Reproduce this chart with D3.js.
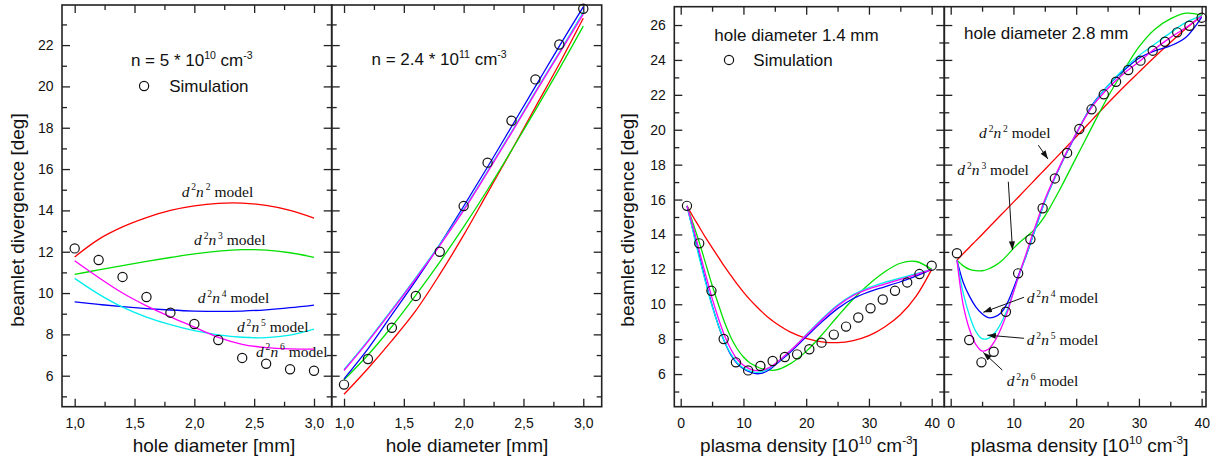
<!DOCTYPE html>
<html>
<head>
<meta charset="utf-8">
<script src="https://cdn.jsdelivr.net/npm/d3@7"></script>
<style>
  body { margin: 0; background: #fff; }
  svg { display: block; }
</style>
</head>
<body>
<div id="chart"></div>
<script>
// ---- left figure: divergence vs hole diameter ----
var holeDiameter = [1.0, 1.2, 1.4, 1.6, 1.8, 2.0, 2.2, 2.4, 2.6, 2.8, 3.0]

// n = 5e10 cm^-3
var simLow  = [12.16, 11.6, 10.78, 9.81, 9.05, 8.5, 7.73, 6.86, 6.58, 6.31, 6.24]
var d2n2Low = [11.75, 12.6, 13.2, 13.65, 14.0, 14.22, 14.34, 14.35, 14.24, 14.0, 13.63]
var d2n3Low = [10.9, 11.12, 11.33, 11.53, 11.72, 11.9, 12.03, 12.1, 12.08, 11.95, 11.73]
var d2n4Low = [9.57, 9.45, 9.34, 9.25, 9.18, 9.13, 9.11, 9.13, 9.19, 9.29, 9.42]
var d2n5Low = [10.71, 9.95, 9.32, 8.84, 8.47, 8.18, 7.98, 7.86, 7.84, 7.96, 8.25]
var d2n6Low = [11.56, 10.75, 10.0, 9.38, 8.85, 8.35, 7.85, 7.52, 7.36, 7.3, 7.29]

// n = 2.4e11 cm^-3
var simHigh  = [5.57, 6.81, 8.32, 9.86, 12.0, 14.21, 16.31, 18.34, 20.34, 22.03, 23.76]
var d2n2High = [5.1, 6.35, 7.7, 9.15, 10.9, 12.8, 14.85, 16.9, 19.0, 21.1, 23.3]
var d2n3High = [5.8, 7.0, 8.38, 9.9, 11.5, 13.2, 15.0, 16.9, 18.85, 20.85, 22.92]
var d2n4High = [5.85, 7.3, 8.95, 10.6, 12.35, 14.2, 16.1, 18.05, 20.0, 21.95, 23.85]
var d2n5High = [6.3, 7.7, 9.2, 10.75, 12.35, 14.05, 15.9, 17.8, 19.75, 21.65, 23.6]
var d2n6High = [6.25, 7.65, 9.15, 10.7, 12.3, 14.0, 15.85, 17.75, 19.7, 21.6, 23.5]

// ---- right figure: divergence vs plasma density ----
var densitySim = [1, 2.95, 4.9, 6.85, 8.8, 10.75, 12.7, 14.65, 16.6, 18.55, 20.5,
                  22.45, 24.4, 26.35, 28.3, 30.25, 32.2, 34.15, 36.1, 38.05, 40]
var densityModel = [1, 2, 3, 4, 5, 6, 7, 8, 9, 10, 11, 12, 13, 14, 15,
                    17.5, 20, 22.5, 25, 27.5, 30, 32.5, 35, 37.5, 40]

// hole diameter 1.4 mm
var sim14  = [15.64, 13.49, 10.77, 8.01, 6.67, 6.21, 6.46, 6.75, 6.98, 7.13, 7.42,
              7.8, 8.26, 8.72, 9.24, 9.77, 10.27, 10.77, 11.25, 11.73, 12.21]
var d2n2_14 = [15.64, 15.0, 14.4, 13.8, 13.25, 12.7, 12.15, 11.65, 11.15, 10.7, 10.28, 9.9, 9.55, 9.23, 8.95,
               8.4, 8.05, 7.85, 7.8, 7.92, 8.2, 8.7, 9.4, 10.45, 12.0]
var d2n3_14 = [15.64, 14.6, 13.5, 12.3, 11.1, 10.0, 8.95, 8.1, 7.45, 6.98, 6.65, 6.45, 6.3, 6.24, 6.22,
               6.6, 7.3, 8.25, 9.3, 10.3, 11.15, 11.85, 12.35, 12.45, 12.0]
var d2n4_14 = [15.64, 14.2, 12.72, 11.3, 9.95, 8.8, 7.84, 7.1, 6.6, 6.3, 6.12, 6.02, 6.06, 6.22, 6.5,
               7.26, 8.13, 8.99, 9.75, 10.33, 10.71, 11.0, 11.29, 11.61, 12.0]
var d2n5_14 = [15.64, 14.1, 12.6, 11.2, 9.9, 8.8, 7.85, 7.15, 6.65, 6.35, 6.18, 6.1, 6.14, 6.3, 6.55,
               7.35, 8.25, 9.15, 9.95, 10.55, 10.95, 11.25, 11.5, 11.75, 12.0]
var d2n6_14 = [15.64, 14.4, 13.0, 11.65, 10.35, 9.2, 8.2, 7.42, 6.85, 6.5, 6.3, 6.2, 6.22, 6.35, 6.58,
               7.35, 8.22, 9.1, 9.9, 10.5, 10.88, 11.15, 11.42, 11.7, 12.0]

// hole diameter 2.8 mm
var sim28  = [12.92, 7.95, 6.67, 7.28, 9.57, 11.77, 13.72, 15.5, 17.21, 18.67, 20.04,
              21.17, 22.03, 22.75, 23.42, 23.96, 24.53, 25.04, 25.58, 25.96, 26.42]
var d2n2_28 = [12.53, 12.9, 13.27, 13.63, 14.0, 14.37, 14.74, 15.11, 15.48, 15.85, 16.22, 16.6, 16.97, 17.35, 17.72,
               18.66, 19.6, 20.55, 21.5, 22.42, 23.3, 24.17, 25.0, 25.8, 26.55]
var d2n3_28 = [12.53, 12.2, 12.0, 11.93, 11.92, 12.02, 12.2, 12.45, 12.8, 13.2, 13.55, 13.85, 14.15, 14.55, 15.05,
               16.65, 18.4, 20.15, 21.85, 23.35, 24.75, 25.75, 26.35, 26.68, 26.57]
var d2n4_28 = [12.53, 11.25, 10.45, 9.85, 9.45, 9.23, 9.28, 9.5, 10.05, 10.9, 11.85, 12.75, 13.8, 14.85, 15.9,
               17.95, 19.75, 21.4, 22.5, 23.37, 24.1, 24.52, 24.8, 25.3, 26.45]
var d2n5_28 = [12.53, 10.62, 9.35, 8.45, 8.03, 8.05, 8.35, 8.9, 9.68, 10.7, 11.75, 12.77, 13.8, 14.85, 15.88,
               17.95, 19.8, 21.35, 22.5, 23.45, 24.25, 24.9, 25.55, 26.15, 26.52]
var d2n6_28 = [12.53, 9.95, 8.55, 7.7, 7.32, 7.42, 7.88, 8.6, 9.52, 10.68, 11.8, 12.87, 13.95, 15.0, 16.0,
               18.0, 19.8, 21.3, 22.35, 23.2, 23.9, 24.62, 25.28, 25.85, 26.5]

// ---- ticks ----
var diameterTicks = [1.0, 1.5, 2.0, 2.5, 3.0]
var diameterMinor = [1.25, 1.75, 2.25, 2.75]
var densityTicks = [0, 10, 20, 30, 40]
var densityMinor = [5, 15, 25, 35]
var degTicksLeft = [6, 8, 10, 12, 14, 16, 18, 20, 22]
var degMinorLeft = [5, 7, 9, 11, 13, 15, 17, 19, 21, 23]
var degTicksRight = [6, 8, 10, 12, 14, 16, 18, 20, 22, 24, 26]
var degMinorRight = [5, 7, 9, 11, 13, 15, 17, 19, 21, 23, 25]

var modelExp = [2, 3, 4, 5, 6]
var modelColor = ["#ff0000", "#00e000", "#0000ff", "#00eeee", "#ff00ff"]

var width = 1219
var height = 464
var fontSans = "'Liberation Sans', Arial, Helvetica, sans-serif"
var fontSerif = "'Liberation Serif', 'Times New Roman', serif"

var svg = d3.select("#chart").append("svg")
    .attr("width", width)
    .attr("height", height)

svg.append("defs").append("marker")
    .attr("id", "arrow")
    .attr("viewBox", "0 0 10 7")
    .attr("refX", 10).attr("refY", 3.5)
    .attr("markerUnits", "userSpaceOnUse")
    .attr("markerWidth", 9).attr("markerHeight", 6)
    .attr("orient", "auto")
  .append("path")
    .attr("d", "M0,0 L10,3.5 L0,7 z")
    .attr("fill", "#111")

var commaFmt = d => d3.format(".1f")(d).replace(".", ",")

var yLeft = d3.scaleLinear().domain([4.5, 23.94]).range([406.7, 5])
var yRight = d3.scaleLinear().domain([4.13, 27.05]).range([406.7, 6.7])

var panels = [
    { x: d3.scaleLinear().domain([0.894, 3.148]).range([62, 331.7]), y: yLeft,
      xt: diameterTicks, xm: diameterMinor, yt: degTicksLeft, ym: degMinorLeft,
      fmt: commaFmt, yLabels: true,
      simX: holeDiameter, sim: simLow, modelX: holeDiameter,
      models: [d2n2Low, d2n3Low, d2n4Low, d2n5Low, d2n6Low] },
    { x: d3.scaleLinear().domain([0.897, 3.154]).range([331.7, 601.7]), y: yLeft,
      xt: diameterTicks, xm: diameterMinor, yt: degTicksLeft, ym: degMinorLeft,
      fmt: commaFmt, yLabels: false,
      simX: holeDiameter, sim: simHigh, modelX: holeDiameter,
      models: [d2n2High, d2n3High, d2n4High, d2n5High, d2n6High] },
    { x: d3.scaleLinear().domain([-1.02, 42.01]).range([674.3, 944.3]), y: yRight,
      xt: densityTicks, xm: densityMinor, yt: degTicksRight, ym: degMinorRight,
      fmt: d3.format("d"), yLabels: true,
      simX: densitySim, sim: sim14, modelX: densityModel,
      models: [d2n2_14, d2n3_14, d2n4_14, d2n5_14, d2n6_14] },
    { x: d3.scaleLinear().domain([-1.02, 40.69]).range([944.3, 1206]), y: yRight,
      xt: densityTicks, xm: densityMinor, yt: degTicksRight, ym: degMinorRight,
      fmt: d3.format("d"), yLabels: false,
      simX: densitySim, sim: sim28, modelX: densityModel,
      models: [d2n2_28, d2n3_28, d2n4_28, d2n5_28, d2n6_28] }
]

function drawAxes(p) {
    var left = p.x.range()[0], right = p.x.range()[1]
    var bottom = p.y.range()[0], top = p.y.range()[1]
    var g = svg.append("g").attr("class", "axes")

    g.append("g").attr("transform", `translate(0,${bottom})`)
        .call(d3.axisBottom(p.x).tickValues(p.xt).tickSize(-8).tickPadding(11).tickFormat(p.fmt))
    g.append("g").attr("transform", `translate(0,${bottom})`)
        .call(d3.axisBottom(p.x).tickValues(p.xm).tickSize(-5).tickFormat(""))
    g.append("g").attr("transform", `translate(0,${top})`)
        .call(d3.axisTop(p.x).tickValues(p.xt).tickSize(-8).tickFormat(""))
    g.append("g").attr("transform", `translate(0,${top})`)
        .call(d3.axisTop(p.x).tickValues(p.xm).tickSize(-5).tickFormat(""))

    g.append("g").attr("transform", `translate(${left},0)`)
        .call(d3.axisLeft(p.y).tickValues(p.yt).tickSize(-8).tickPadding(8.5)
            .tickFormat(p.yLabels ? d3.format("d") : ""))
    g.append("g").attr("transform", `translate(${left},0)`)
        .call(d3.axisLeft(p.y).tickValues(p.ym).tickSize(-5).tickFormat(""))
    g.append("g").attr("transform", `translate(${right},0)`)
        .call(d3.axisRight(p.y).tickValues(p.yt).tickSize(-8).tickFormat(""))
    g.append("g").attr("transform", `translate(${right},0)`)
        .call(d3.axisRight(p.y).tickValues(p.ym).tickSize(-5).tickFormat(""))

    g.selectAll(".domain").remove()
    g.selectAll(".tick line").attr("stroke", "#222").attr("stroke-width", 1.3)
    g.selectAll(".tick text")
        .attr("font-family", fontSans)
        .attr("font-size", 14)
        .attr("fill", "#111")

    svg.append("rect")
        .attr("x", left).attr("y", top)
        .attr("width", right - left).attr("height", bottom - top)
        .attr("fill", "none")
        .attr("stroke", "#222")
        .attr("stroke-width", 1.6)
}

function drawData(p) {
    var line = d3.line()
        .x((d, i) => p.x(p.modelX[i]))
        .y(d => p.y(d))
        .curve(d3.curveCatmullRom.alpha(0.5))

    p.models.forEach((m, k) => {
        svg.append("path")
            .attr("d", line(m))
            .attr("fill", "none")
            .attr("stroke", modelColor[k])
            .attr("stroke-width", 1.3)
    })

    svg.append("g").selectAll("circle")
        .data(p.sim)
        .enter().append("circle")
        .attr("cx", (d, i) => p.x(p.simX[i]))
        .attr("cy", d => p.y(d))
        .attr("r", 4.6)
        .attr("fill", "none")
        .attr("stroke", "#111")
        .attr("stroke-width", 1.2)
}

// text with superscripts / italics
function richText(x, y, parts, size, family, anchor, rotate) {
    var t = svg.append("text")
        .attr("font-family", family)
        .attr("font-size", size)
        .attr("fill", "#111")
        .attr("text-anchor", anchor || "start")
    if (rotate) {
        t.attr("transform", `translate(${x},${y}) rotate(-90)`)
    } else {
        t.attr("x", x).attr("y", y)
    }
    var shift = 0
    parts.forEach(part => {
        var s = t.append("tspan").text(part.t)
        var target = part.sup ? -0.42 * size : 0
        if (target != shift) s.attr("dy", target - shift)
        shift = target
        if (part.sup) s.attr("font-size", size * 0.62)
        if (part.it) s.attr("font-style", "italic")
    })
    return t
}

function modelLabel(p, xv, yv, e) {
    richText(p.x(xv), p.y(yv), [
        { t: "d", it: true }, { t: "\u20092", sup: true },
        { t: "n", it: true }, { t: "\u2009" + e, sup: true },
        { t: " model" }
    ], 15.5, fontSerif)
}

function arrow(p, x1, y1, x2, y2) {
    svg.append("line")
        .attr("x1", p.x(x1)).attr("y1", p.y(y1))
        .attr("x2", p.x(x2)).attr("y2", p.y(y2))
        .attr("stroke", "#111")
        .attr("stroke-width", 1)
        .attr("marker-end", "url(#arrow)")
}

panels.forEach(drawAxes)
panels.forEach(drawData)

// ---- annotations ----
var p1 = panels[0], p2 = panels[1], p3 = panels[2], p4 = panels[3]

richText(p1.x(1.47), p1.y(20.98),
    [{ t: "n = 5 * 10" }, { t: "10", sup: true }, { t: " cm" }, { t: "-3", sup: true }], 17, fontSans)
svg.append("circle").attr("cx", p1.x(1.58)).attr("cy", p1.y(20.02)).attr("r", 4.6)
    .attr("fill", "none").attr("stroke", "#111").attr("stroke-width", 1.2)
richText(p1.x(1.79), p1.y(19.71), [{ t: "Simulation" }], 17, fontSans)

var lowLabelPos = [[1.894, 14.65], [1.997, 12.32], [2.028, 9.5], [2.356, 8.1], [2.515, 6.92]]
lowLabelPos.forEach((q, k) => modelLabel(p1, q[0], q[1], modelExp[k]))

richText(p2.x(1.23), p2.y(21.03),
    [{ t: "n = 2.4 * 10" }, { t: "11", sup: true }, { t: " cm" }, { t: "-3", sup: true }], 17, fontSans)

richText(p3.x(5.35), p3.y(25.1), [{ t: "hole diameter 1.4 mm" }], 17, fontSans)
svg.append("circle").attr("cx", p3.x(7.7)).attr("cy", p3.y(24.0)).attr("r", 4.6)
    .attr("fill", "none").attr("stroke", "#111").attr("stroke-width", 1.2)
richText(p3.x(11.57), p3.y(23.67), [{ t: "Simulation" }], 17, fontSans)

richText(p4.x(2.12), p4.y(25.18), [{ t: "hole diameter 2.8 mm" }], 17, fontSans)
var highLabelPos = [[4.51, 19.51], [1.05, 17.4], [12.11, 10.05], [12.11, 7.66], [8.92, 5.31]]
highLabelPos.forEach((q, k) => modelLabel(p4, q[0], q[1], modelExp[k]))
var arrowPos = [
    [13.96, 19.12, 15.5, 18.32],
    [9.18, 17.02, 9.85, 13.11],
    [11.68, 10.4, 5.2, 9.54],
    [11.68, 8.05, 5.83, 8.23],
    [8.22, 6.23, 5.2, 7.24]
]
arrowPos.forEach(a => arrow(p4, a[0], a[1], a[2], a[3]))

// ---- axis titles ----
richText(214, 452, [{ t: "hole diameter [mm]" }], 19, fontSans, "middle")
richText(467, 452, [{ t: "hole diameter [mm]" }], 19, fontSans, "middle")
var densityTitle = [{ t: "plasma density [10" }, { t: "10", sup: true }, { t: " cm" }, { t: "-3", sup: true }, { t: "]" }]
richText(809, 452, densityTitle, 19, fontSans, "middle")
richText(1079.5, 452, densityTitle, 19, fontSans, "middle")
richText(24, 220, [{ t: "beamlet divergence [deg]" }], 19, fontSans, "middle", true)
richText(634, 220, [{ t: "beamlet divergence [deg]" }], 19, fontSans, "middle", true)
</script>
</body>
</html>
